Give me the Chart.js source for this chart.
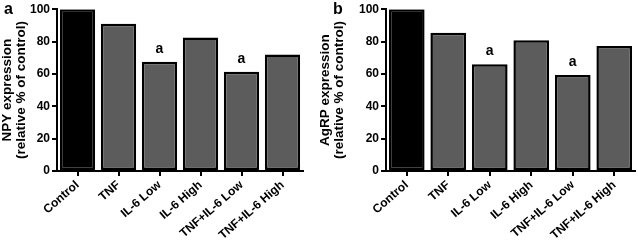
<!DOCTYPE html>
<html>
<head>
<meta charset="utf-8">
<script src="https://cdn.jsdelivr.net/npm/chart.js@4.4.1/dist/chart.umd.min.js"></script>
<style>
  html, body { margin: 0; padding: 0; background: #fff; }
  #wrap { position: relative; width: 638px; height: 245px; }
  .panel { position: absolute; top: 0; height: 245px; }
  #pa { left: 0; width: 318px; }
  #pb { left: 318px; width: 320px; }
</style>
</head>
<body>
<div id="wrap">
  <div class="panel" id="pa"><canvas id="chartA"></canvas></div>
  <div class="panel" id="pb"><canvas id="chartB"></canvas></div>
</div>
<script>
// donnees
const groups = ['Control', 'TNF', 'IL-6 Low', 'IL-6 High', 'TNF+IL-6 Low', 'TNF+IL-6 High'];
const npyValues = [100, 91, 67.5, 82.5, 61.3, 72];
const agrpValues = [100, 85.5, 66, 80.8, 59.3, 77.3];
const signif = ['', '', 'a', '', 'a', ''];
const yTicks = [0, 20, 40, 60, 80, 100];

const barColors = groups.map((g, i) => i === 0 ? '#000000' : '#5c5c5c');
const font = 'Liberation Sans, Arial, sans-serif';

// lettres "a" au-dessus des barres + lettre du panneau
const annotPlugin = {
    id: 'annot',
    afterDatasetsDraw(chart, args, opts) {
        const ctx = chart.ctx;
        const meta = chart.getDatasetMeta(0);
        ctx.save();
        ctx.fillStyle = '#000';
        ctx.textAlign = 'center';
        ctx.textBaseline = 'alphabetic';
        ctx.font = 'bold 14px ' + font;
        meta.data.forEach((bar, i) => {
            if (signif[i]) ctx.fillText(signif[i], bar.x, bar.y - 9);
        });
        ctx.textAlign = 'left';
        ctx.textBaseline = 'top';
        ctx.font = 'bold 16px ' + font;
        ctx.fillText(opts.letter, opts.lx, 2);
        ctx.restore();
    }
};

function makeChart(id, values, title, letter, lx, yWidth, padRight) {
    const ctx = document.getElementById(id).getContext('2d');
    return new Chart(ctx, {
        type: 'bar',
        data: {
            labels: groups,
            datasets: [{
                data: values,
                backgroundColor: barColors,
                borderColor: '#000',
                borderWidth: 2.5,
                borderSkipped: false,
                barPercentage: 0.86,
                categoryPercentage: 1.0
            }]
        },
        options: {
            responsive: true,
            maintainAspectRatio: false,
            animation: false,
            layout: { padding: { top: 6, right: padRight, left: 0, bottom: 0 } },
            plugins: {
                legend: { display: false },
                tooltip: { enabled: false },
                annot: { letter: letter, lx: lx }
            },
            scales: {
                x: {
                    offset: true,
                    border: { color: '#000', width: 2 },
                    grid: { offset: false, drawOnChartArea: false, drawTicks: true, tickLength: 5, color: '#000', lineWidth: 2 },
                    ticks: {
                        color: '#000',
                        font: { family: font, size: 12, weight: 'bold' },
                        minRotation: 41,
                        maxRotation: 41,
                        autoSkip: false,
                        padding: 2
                    },
                    afterFit(scale) { scale.height = 74; }
                },
                y: {
                    min: 0,
                    max: 100,
                    border: { color: '#000', width: 2 },
                    grid: { drawOnChartArea: false, drawTicks: true, tickLength: 5, color: '#000', lineWidth: 2 },
                    ticks: {
                        stepSize: 20,
                        color: '#000',
                        padding: 2,
                        font: { family: font, size: 12, weight: 'bold' },
                        callback: (v) => yTicks.includes(v) ? v : ''
                    },
                    title: {
                        display: true,
                        text: title,
                        color: '#000',
                        font: { family: font, size: 13.5, weight: 'bold', lineHeight: 1.05 },
                        padding: { top: 0, bottom: 2 }
                    },
                    afterFit(scale) { scale.width = yWidth; }
                }
            }
        },
        plugins: [annotPlugin]
    });
}

makeChart('chartA', npyValues, ['NPY expression', '(relative % of control)'], 'a', 4, 57, 15);
makeChart('chartB', agrpValues, ['AgRP expression', '(relative % of control)'], 'b', 15, 68, 3);
</script>
</body>
</html>
